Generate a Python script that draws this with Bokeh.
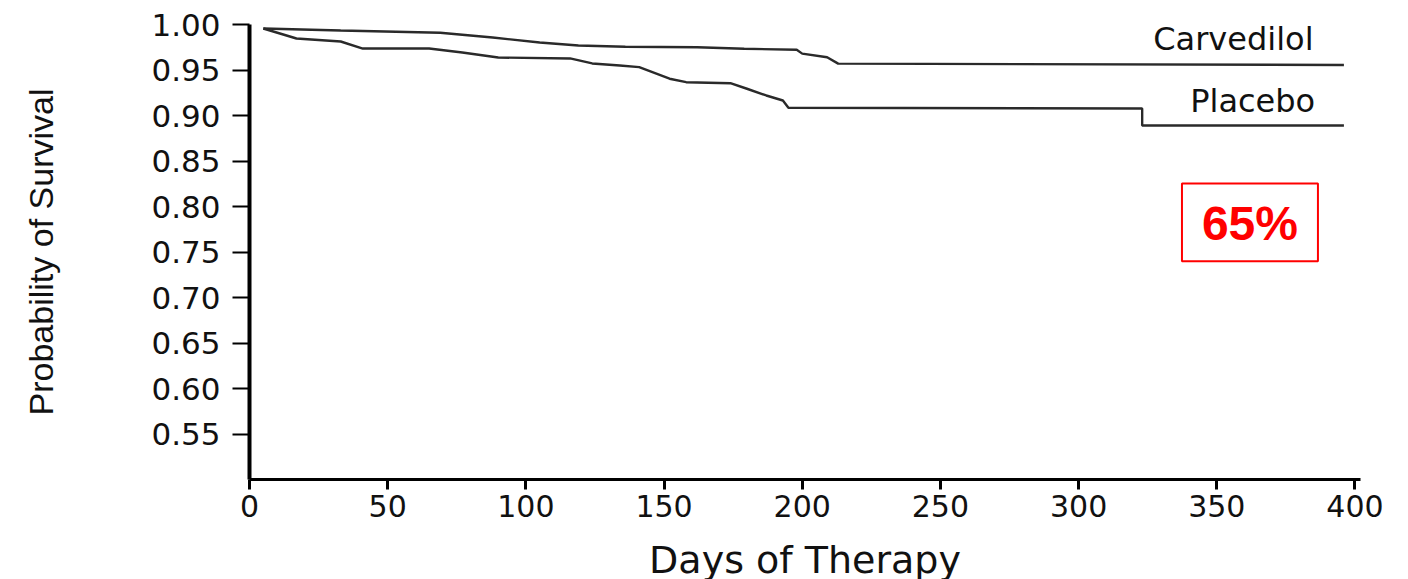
from bokeh.plotting import figure
from bokeh.models import FixedTicker, Label, BoxAnnotation, Range1d
from bokeh.embed import file_html
from bokeh.resources import INLINE

# ---- data ----
carv_days = [5, 33, 69, 88, 105, 119, 136, 162, 179, 198, 200, 209, 213, 396]
carv_surv = [0.9956, 0.9934, 0.9909, 0.9857, 0.9802, 0.9769, 0.9755, 0.9750, 0.9733, 0.9722, 0.9680, 0.9640, 0.9570, 0.9555]

plac_days = [5, 17, 33, 41, 65, 77, 90, 116, 124, 134, 141, 152, 158, 174, 180, 187, 193, 195, 323, 323, 396]
plac_surv = [0.9956, 0.9846, 0.9813, 0.9736, 0.9736, 0.9692, 0.9637, 0.9627, 0.9572, 0.9550, 0.9531, 0.9404, 0.9366, 0.9355, 0.9294, 0.9220, 0.9165, 0.9085, 0.9077, 0.8890, 0.8890]

x_ticks = [0, 50, 100, 150, 200, 250, 300, 350, 400]
y_ticks = [0.55, 0.60, 0.65, 0.70, 0.75, 0.80, 0.85, 0.90, 0.95, 1.00]
series_names = ["Carvedilol", "Placebo"]
annotation_text = "65%"

p = figure(
    width=1408, height=579,
    frame_width=1111, frame_height=455,
    min_border_left=249, min_border_right=48, min_border_top=24, min_border_bottom=100,
    x_range=Range1d(0, 402), y_range=Range1d(0.50, 1.0),
    output_backend="svg", toolbar_location=None,
)
p.outline_line_color = None
p.grid.visible = False
p.background_fill_color = "white"
p.border_fill_color = "white"

line_col = "#2a2a2a"
p.line(carv_days, carv_surv, line_color=line_col, line_width=2.4)
p.line(plac_days, plac_surv, line_color=line_col, line_width=2.4)

tick_font = "DejaVu Sans"
txt_col = "#111111"

# x axis
xa = p.xaxis[0]
xa.ticker = FixedTicker(ticks=x_ticks)
xa.axis_line_width = 3
xa.axis_line_color = "black"
xa.major_tick_line_width = 3
xa.major_tick_in = 0
xa.major_tick_out = 10
xa.minor_tick_line_color = None
xa.major_label_text_font = tick_font
xa.major_label_text_font_size = "30px"
xa.major_label_text_color = txt_col
xa.major_label_standoff = 5
xa.axis_label = "Days of Therapy"
xa.axis_label_text_font = tick_font
xa.axis_label_text_font_size = "38px"
xa.axis_label_text_font_style = "normal"
xa.axis_label_text_color = txt_col
xa.axis_label_standoff = 18

# y axis
ya = p.yaxis[0]
ya.ticker = FixedTicker(ticks=y_ticks)
ya.major_label_overrides = {t: f"{t:.2f}" for t in y_ticks}
ya.axis_line_width = 4
ya.axis_line_color = "black"
ya.major_tick_line_width = 2
ya.major_tick_in = 0
ya.major_tick_out = 17
ya.minor_tick_line_color = None
ya.major_label_text_font = tick_font
ya.major_label_text_font_size = "31px"
ya.major_label_text_color = txt_col
ya.major_label_standoff = 12
ya.axis_label = "Probability of Survival"
ya.axis_label_text_font = "Liberation Sans"
ya.axis_label_text_font_size = "34px"
ya.axis_label_text_font_style = "normal"
ya.axis_label_text_color = txt_col
ya.axis_label_standoff = 88

# series labels
p.add_layout(Label(x=356, y=0.9846, text=series_names[0], text_align="center", text_baseline="middle",
                   text_font=tick_font, text_font_size="32px", text_color=txt_col))
p.add_layout(Label(x=363, y=0.9154, text=series_names[1], text_align="center", text_baseline="middle",
                   text_font=tick_font, text_font_size="32px", text_color=txt_col))

# red boxed annotation
p.add_layout(BoxAnnotation(left=337.4, right=386.6, bottom=0.7397, top=0.8253,
                           fill_alpha=0, line_color="#ff0000", line_alpha=1.0, line_width=2))
p.add_layout(Label(x=362, y=0.7814, text=annotation_text, text_align="center", text_baseline="middle",
                   text_font="Liberation Sans", text_font_style="bold", text_font_size="48px",
                   text_color="#ff0000"))

open("out.html", "w").write(file_html(p, INLINE))
